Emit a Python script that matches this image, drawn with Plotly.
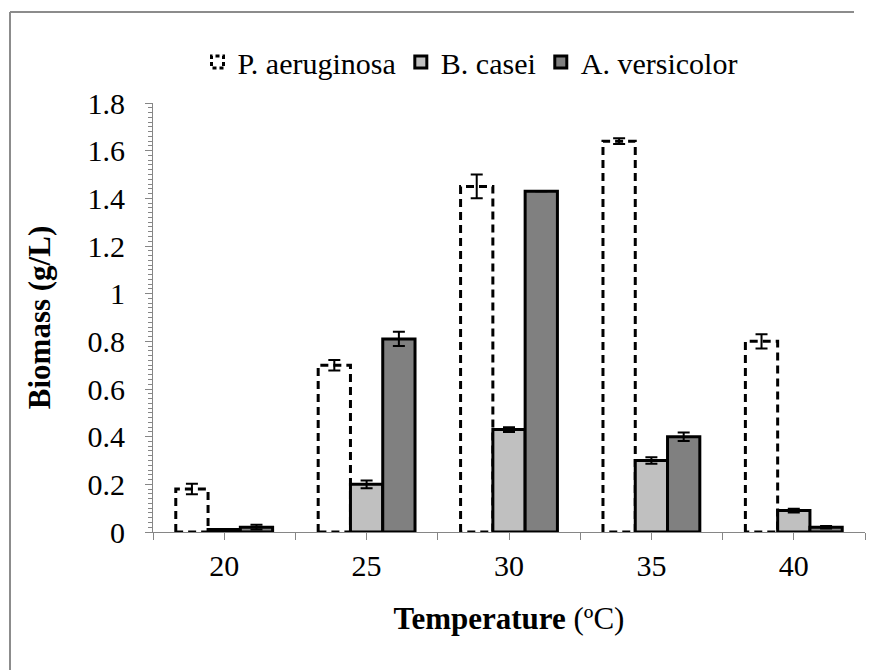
import plotly.graph_objects as go

# Biomass (g/L) at each growth temperature, with standard errors
temperatures = [20, 25, 30, 35, 40]
series_names = ["P. aeruginosa", "B. casei", "A. versicolor"]
p_aeruginosa = [0.18, 0.70, 1.45, 1.64, 0.80]
p_aeruginosa_err = [0.022, 0.022, 0.05, 0.012, 0.03]
b_casei = [0.01, 0.20, 0.43, 0.30, 0.09]
b_casei_err = [0.0, 0.016, 0.01, 0.014, 0.008]
a_versicolor = [0.02, 0.81, 1.43, 0.40, 0.02]
a_versicolor_err = [0.01, 0.03, 0.0, 0.018, 0.005]
y_ticks = [0, 0.2, 0.4, 0.6, 0.8, 1, 1.2, 1.4, 1.6, 1.8]

SERIF = "Liberation Serif"
AXIS_GREY = "#868686"

fills = ["#ffffff", "#c0c0c0", "#808080"]
values = [p_aeruginosa, b_casei, a_versicolor]
errors = [p_aeruginosa_err, b_casei_err, a_versicolor_err]

fig = go.Figure()
for name, vals, errs, fill in zip(series_names, values, errors, fills):
    fig.add_trace(go.Bar(
        x=temperatures,
        y=vals,
        name=name,
        marker=dict(color=fill, line=dict(color="#000000", width=3)),
        error_y=dict(type="data", array=errs, visible=True,
                     color="#000000", thickness=2, width=6),
    ))

# x ticks every half step; only the temperatures carry labels
half = (temperatures[1] - temperatures[0]) / 2
tickvals, ticktext = [], []
for t in temperatures:
    tickvals += [t - half, t]
    ticktext += ["", str(t)]
tickvals.append(temperatures[-1] + half)
ticktext.append("")

W, H = 872, 672
ML, MR, MT, MB = 153, 7, 103, 140
pw, ph = W - ML - MR, H - MT - MB

fig.update_layout(
    width=W, height=H,
    margin=dict(l=ML, r=MR, t=MT, b=MB, autoexpand=False),
    paper_bgcolor="#ffffff",
    plot_bgcolor="#ffffff",
    barmode="group",
    bargap=0.32,
    bargroupgap=0,
    font=dict(family=SERIF, color="#000000", size=30),
    showlegend=True,
    legend=dict(
        orientation="h",
        x=(470 - ML) / pw, xanchor="center",
        y=(H - MB - 62) / ph, yanchor="middle",
        font=dict(family=SERIF, size=30, color="#000000"),
        itemwidth=30,
        tracegroupgap=0,
        bgcolor="rgba(0,0,0,0)",
    ),
    xaxis=dict(
        range=[temperatures[0] - half, temperatures[-1] + half],
        tickmode="array", tickvals=tickvals, ticktext=ticktext,
        ticks="outside", ticklen=7, tickcolor=AXIS_GREY, tickwidth=1,
        showline=True, linecolor=AXIS_GREY, linewidth=1,
        showgrid=False, zeroline=False,
        tickfont=dict(family=SERIF, size=30, color="#000000"),
        title=dict(text="<b>Temperature</b> (ºC)",
                   font=dict(family=SERIF, size=31, color="#000000"),
                   standoff=26),
        automargin=False,
    ),
    yaxis=dict(
        range=[0, 1.8],
        tickmode="array", tickvals=y_ticks,
        ticktext=[f"{v:g}" for v in y_ticks],
        ticks="outside", ticklen=7, tickcolor=AXIS_GREY, tickwidth=1,
        ticklabelstandoff=14,
        minor=dict(dtick=0.02, ticks="outside", ticklen=4,
                   tickcolor=AXIS_GREY, tickwidth=1, showgrid=False),
        showline=True, linecolor=AXIS_GREY, linewidth=1,
        showgrid=False, zeroline=False,
        tickfont=dict(family=SERIF, size=30, color="#000000"),
        title=dict(text="<b>Biomass (g/L)</b>",
                   font=dict(family=SERIF, size=31, color="#000000"),
                   standoff=27),
        automargin=False,
    ),
)

# chart-area frame (top and left edges)
fx = (10 - ML) / pw
fy = (H - MB - 12) / ph
x_right = (W - 18 - ML) / pw
y_bottom = -(MB - 2) / ph
fig.add_shape(type="line", xref="paper", yref="paper",
              x0=fx, x1=fx, y0=fy, y1=y_bottom,
              line=dict(color="#8c8c8c", width=2))
fig.add_shape(type="line", xref="paper", yref="paper",
              x0=fx, x1=x_right, y0=fy, y1=fy,
              line=dict(color="#8c8c8c", width=2))

# dashed outline for the first series (bars and its legend swatch)
dash_js = """
var gd = document.getElementById('{plot_id}');
var bars = gd.querySelectorAll('.barlayer .trace.bars');
if (bars.length) {
  bars[0].querySelectorAll('.points path').forEach(function(p){
    p.style.strokeDasharray = '8,5';
  });
}
var items = gd.querySelectorAll('.legend .traces');
if (items.length) {
  items[0].querySelectorAll('.legendpoints path').forEach(function(p){
    p.style.strokeDasharray = '4,3';
  });
}
"""

fig.write_html("out.html", post_script=dash_js)
